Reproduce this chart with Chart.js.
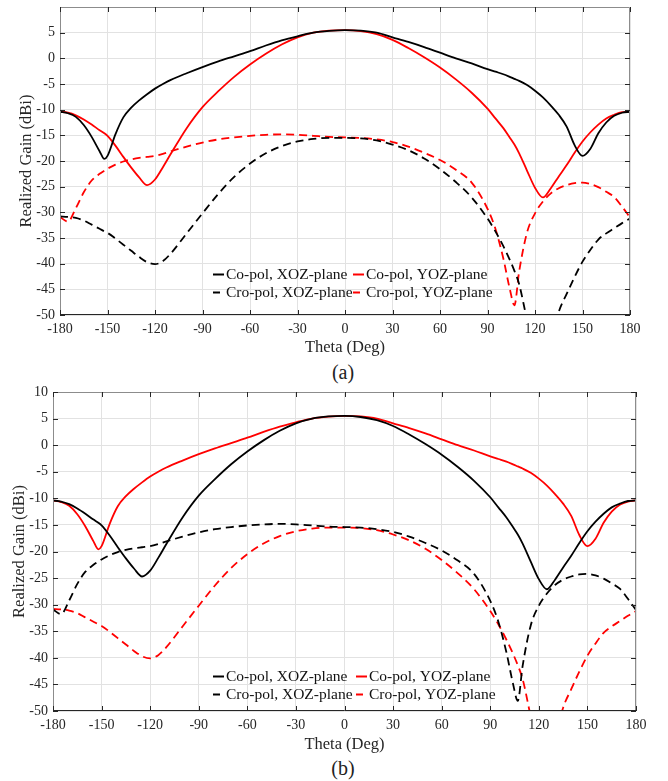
<!DOCTYPE html>
<html>
<head>
<meta charset="utf-8">
<title>Realized Gain</title>
<script src="https://cdn.jsdelivr.net/npm/chart.js@4.4.1/dist/chart.umd.min.js"></script>
<style>
  body { margin: 0; background: #fff; }
  #page { position: relative; width: 668px; height: 781px; background: #fff; overflow: hidden; }
  .box { position: absolute; left: 0; width: 668px; }
  .cap {
    position: absolute;
    font-family: 'Liberation Serif', 'Times New Roman', serif;
    font-size: 20px;
    line-height: 20px;
    color: #222;
    transform: translateX(-50%);
  }
</style>
</head>
<body>
<div id="page">
  <div class="box" style="top:0;height:358px"><canvas id="chartA"></canvas></div>
  <div class="cap" style="left:343px;top:362px">(a)</div>
  <div class="box" style="top:380px;height:375px"><canvas id="chartB"></canvas></div>
  <div class="cap" style="left:343px;top:758px">(b)</div>
</div>
<script>
const SERIF = "'Liberation Serif', 'Times New Roman', serif";
const INK = '#262626';

// Theta samples (deg), denser around the nulls
const theta = [-180, -175, -170, -165, -160, -155, -152, -150, -145, -140, -135, -130, -125, -120, -115, -110,
  -100, -90, -80, -70, -60, -50, -40, -30, -20, -10, 0, 10, 20, 30, 40, 50, 60, 70, 80, 90,
  95, 100, 104, 107, 110, 115, 120, 125, 130, 135, 140, 145, 150, 155, 160, 165, 170, 175, 180];

// Panel (a) gains (dBi)
const aCoXOZ = [-10.4, -10.7, -11.4, -13.0, -15.3, -18.1, -19.6, -19.0, -14.8, -11.5, -9.6, -8.2, -7.0, -5.9, -5.0, -4.2,
  -2.9, -1.7, -0.6, 0.4, 1.4, 2.5, 3.5, 4.3, 5.0, 5.35, 5.5, 5.4, 5.0, 4.1, 3.2, 2.2, 1.1, 0.0, -1.0, -2.1,
  -2.6, -3.1, -3.6, -4.0, -4.4, -5.2, -6.3, -7.6, -9.2, -11.0, -13.3, -16.9, -19.0, -17.6, -14.6, -12.5, -11.2, -10.6, -10.4];
const aCoYOZ = [-10.4, -10.6, -11.1, -11.9, -12.9, -14.0, -14.6, -15.1, -17.0, -19.2, -21.3, -23.2, -24.7, -23.6, -21.2, -18.6,
  -13.6, -9.5, -6.4, -3.6, -1.2, 0.9, 2.7, 4.1, 5.0, 5.4, 5.5, 5.3, 4.7, 3.6, 2.0, 0.2, -1.8, -4.1, -6.7, -9.8,
  -11.7, -13.6, -15.4, -16.8, -18.5, -21.9, -25.2, -27.1, -25.3, -23.0, -20.8, -18.4, -16.2, -14.4, -12.9, -11.7, -11.0, -10.5, -10.4];
const aCroXOZ = [-30.8, -30.9, -31.1, -31.6, -32.4, -33.2, -33.7, -34.0, -35.1, -36.3, -37.5, -38.7, -39.7, -40.1, -39.5, -38.0,
  -34.1, -30.2, -26.4, -23.1, -20.5, -18.5, -17.1, -16.2, -15.7, -15.5, -15.5, -15.6, -16.0, -16.8, -17.9, -19.5, -21.6, -24.1, -27.1, -31.2,
  -33.7, -36.6, -39.2, -41.4, -44.0, -51.0, -57.0, -59.0, -55.5, -49.4, -45.9, -42.6, -39.6, -37.3, -35.3, -34.1, -33.1, -32.1, -31.2];
const aCroYOZ = [-30.9, -31.8, -29.2, -26.1, -23.8, -22.5, -21.9, -21.5, -20.7, -20.1, -19.7, -19.4, -19.2, -19.0, -18.6, -18.1,
  -17.2, -16.4, -15.8, -15.4, -15.1, -14.9, -14.8, -14.9, -15.1, -15.3, -15.4, -15.5, -15.8, -16.3, -17.2, -18.4, -19.8, -21.7, -24.2, -29.3,
  -33.2, -39.0, -44.8, -48.1, -41.5, -33.9, -30.2, -27.9, -26.3, -25.3, -24.7, -24.3, -24.2, -24.5, -25.1, -26.0, -27.0, -28.9, -31.0];

// Panel (b): same cuts with the two planes swapped
const bCoXOZ = aCoYOZ;
const bCoYOZ = aCoXOZ;
const bCroXOZ = aCroYOZ;
const bCroYOZ = aCroXOZ;

const thetaTicks = [-180, -150, -120, -90, -60, -30, 0, 30, 60, 90, 120, 150, 180];
const gainTicksA = [-50, -45, -40, -35, -30, -25, -20, -15, -10, -5, 0, 5];
const gainTicksB = [-50, -45, -40, -35, -30, -25, -20, -15, -10, -5, 0, 5, 10];
const seriesLabels = ['Co-pol, XOZ-plane', 'Co-pol, YOZ-plane', 'Cro-pol, XOZ-plane', 'Cro-pol, YOZ-plane'];

function points(values) {
  return theta.map((t, i) => ({ x: t, y: values[i] }));
}

function series(label, values, color, dashed) {
  return {
    label: label,
    data: points(values),
    borderColor: color,
    backgroundColor: color,
    borderWidth: 1.8,
    borderDash: dashed ? [8, 5] : [],
    pointRadius: 0,
    cubicInterpolationMode: 'monotone',
    fill: false
  };
}

// Box, inward tick marks and the 2x2 legend, drawn over the plot
const framePlugin = {
  id: 'frame',
  afterDraw(chart, args, opts) {
    const { ctx, chartArea: a, scales: { x, y } } = chart;
    ctx.save();
    ctx.lineWidth = 1;
    ctx.setLineDash([]);

    ctx.strokeStyle = '#8c8c8c';
    ctx.beginPath();
    ctx.moveTo(a.left + 0.5, a.bottom);
    ctx.lineTo(a.left + 0.5, a.top + 0.5);
    ctx.lineTo(a.right - 0.5, a.top + 0.5);
    ctx.lineTo(a.right - 0.5, a.bottom);
    ctx.stroke();
    ctx.strokeStyle = INK;
    ctx.beginPath();
    ctx.moveTo(a.left, a.bottom - 0.5);
    ctx.lineTo(a.right, a.bottom - 0.5);
    ctx.stroke();

    ctx.beginPath();
    x.ticks.forEach(t => {
      const px = Math.round(x.getPixelForValue(t.value)) + 0.5;
      ctx.moveTo(px, a.bottom); ctx.lineTo(px, a.bottom - 5);
      ctx.moveTo(px, a.top); ctx.lineTo(px, a.top + 5);
    });
    y.ticks.forEach(t => {
      const py = Math.round(y.getPixelForValue(t.value)) + 0.5;
      ctx.moveTo(a.left, py); ctx.lineTo(a.left + 5, py);
      ctx.moveTo(a.right, py); ctx.lineTo(a.right - 5, py);
    });
    ctx.stroke();

    // legend
    const lg = opts.legend;
    ctx.font = '15.5px ' + SERIF;
    ctx.textBaseline = 'middle';
    ctx.textAlign = 'left';
    chart.data.datasets.forEach((ds, i) => {
      const lx = lg.cols[i % 2];
      const ly = lg.rows[Math.floor(i / 2)];
      ctx.strokeStyle = ds.borderColor;
      ctx.lineWidth = 2;
      ctx.setLineDash(ds.borderDash.length ? [7, 6] : []);
      ctx.beginPath();
      ctx.moveTo(lx, ly + 0.5);
      ctx.lineTo(lx + 11, ly + 0.5);
      ctx.stroke();
      ctx.setLineDash([]);
      ctx.fillStyle = '#111';
      ctx.fillText(ds.label, lx + 13, ly + 1);
    });
    ctx.restore();
  }
};

function makeChart(id, datasets, gainTicks, box) {
  return new Chart(document.getElementById(id), {
    type: 'line',
    data: { datasets: datasets },
    options: {
      responsive: true,
      maintainAspectRatio: false,
      animation: false,
      layout: { padding: { top: box.top, right: box.right, left: 0, bottom: 0 } },
      plugins: {
        legend: { display: false },
        tooltip: { enabled: false },
        frame: { legend: box.legend }
      },
      scales: {
        x: {
          type: 'linear',
          min: -180,
          max: 180,
          afterBuildTicks: s => { s.ticks = thetaTicks.map(v => ({ value: v })); },
          afterFit: s => { s.height = box.xHeight; s.paddingLeft = 0; s.paddingRight = 0; },
          ticks: { autoSkip: false, maxRotation: 0, padding: 6, color: INK, font: { family: SERIF, size: 14 } },
          grid: { color: '#e2e2e2', drawTicks: false },
          border: { display: false },
          title: { display: true, text: 'Theta (Deg)', color: INK, font: { family: SERIF, size: 16.5 }, padding: 0 }
        },
        y: {
          type: 'linear',
          min: -50,
          max: box.yMax,
          afterBuildTicks: s => { s.ticks = gainTicks.map(v => ({ value: v })); },
          afterFit: s => { s.width = box.yWidth; s.paddingTop = 0; s.paddingBottom = 0; },
          ticks: { autoSkip: false, padding: 5, color: INK, font: { family: SERIF, size: 14 } },
          grid: { color: '#e2e2e2', drawTicks: false },
          border: { display: false },
          title: {
            display: true, text: 'Realized Gain (dBi)', color: INK,
            font: { family: SERIF, size: 16.5 }, padding: { top: box.yTitlePad, bottom: 0 }
          }
        }
      }
    },
    plugins: [framePlugin]
  });
}

document.addEventListener('DOMContentLoaded', () => {
  makeChart('chartA', [
    series(seriesLabels[0], aCoXOZ, '#000000', false),
    series(seriesLabels[1], aCoYOZ, '#ff0000', false),
    series(seriesLabels[2], aCroXOZ, '#000000', true),
    series(seriesLabels[3], aCroYOZ, '#ff0000', true)
  ], gainTicksA, {
    top: 7, right: 38, xHeight: 43, yWidth: 60, yMax: 10, yTitlePad: 17,
    legend: { cols: [213, 353], rows: [274, 292] }
  });

  makeChart('chartB', [
    series(seriesLabels[0], bCoXOZ, '#000000', false),
    series(seriesLabels[1], bCoYOZ, '#ff0000', false),
    series(seriesLabels[2], bCroXOZ, '#000000', true),
    series(seriesLabels[3], bCroYOZ, '#ff0000', true)
  ], gainTicksB, {
    top: 12, right: 32, xHeight: 44, yWidth: 53, yMax: 10, yTitlePad: 10,
    legend: { cols: [213, 356], rows: [296, 314] }
  });
});
</script>
</body>
</html>
